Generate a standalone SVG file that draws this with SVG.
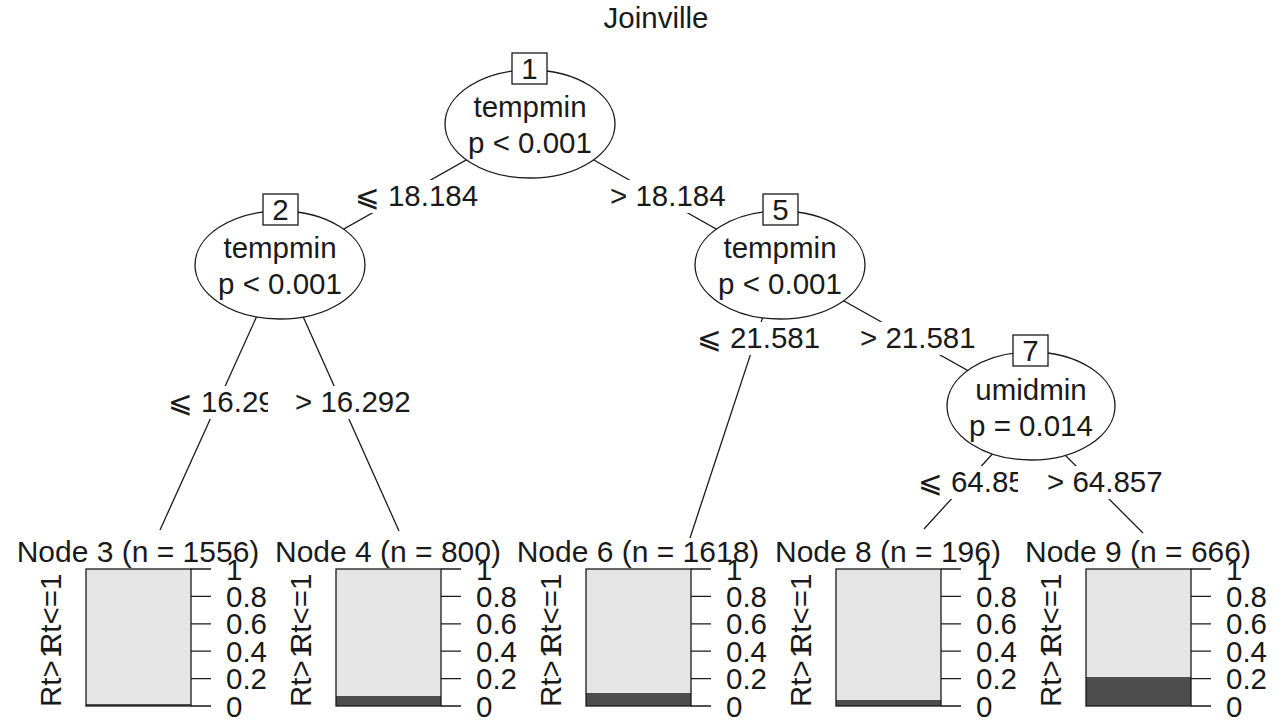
<svg xmlns="http://www.w3.org/2000/svg" width="1284" height="721" viewBox="0 0 1284 721">
<style>
text{font-family:"Liberation Sans",Arial,sans-serif;font-size:29.5px;fill:#1a1a1a}
.c{text-anchor:middle}
.t{font-size:30px;text-anchor:middle}
.e{fill:#fff;stroke:#1a1a1a;stroke-width:1.3}
.b{fill:#fff;stroke:#1a1a1a;stroke-width:1.3}
.ln{stroke:#1a1a1a;stroke-width:1.3;fill:none}
.bg{fill:#fff}
.lt{fill:#e5e5e5;stroke:none}
.dk{fill:#4d4d4d;stroke:none}
.fr{fill:none;stroke:#1a1a1a;stroke-width:1.3}
.sym{font-family:"DejaVu Sans","Liberation Sans",sans-serif}
</style>
<rect width="1284" height="721" fill="#fff"/>
<text class="c" x="656" y="28">Joinville</text>
<g id="edges">
<line class="ln" x1="530" y1="124" x2="280" y2="265"/>
<line class="ln" x1="530" y1="124" x2="780" y2="265"/>
<line class="ln" x1="280" y1="265" x2="160" y2="530"/>
<line class="ln" x1="280" y1="265" x2="399" y2="531"/>
<line class="ln" x1="780" y1="265" x2="1031" y2="406"/>
<line class="ln" x1="780" y1="265" x2="690" y2="538"/>
<line class="ln" x1="996" y1="450" x2="924" y2="529"/>
<line class="ln" x1="1060" y1="450" x2="1143" y2="533"/>
</g>
<g id="edge-labels">
<rect class="bg" x="351" y="180" width="135" height="33"/>
<text x="355" y="206"><tspan class="sym">⩽</tspan> 18.184</text>
<rect class="bg" x="604" y="180" width="130" height="33"/>
<text x="610" y="206">&gt; 18.184</text>
<rect class="bg" x="164" y="386" width="110" height="33"/>
<text x="168" y="412"><tspan class="sym">⩽</tspan> 16.29</text>
<rect class="bg" x="268" y="386" width="155" height="33"/>
<text x="295" y="412">&gt; 16.292</text>
<rect class="bg" x="693" y="322" width="138" height="33"/>
<text x="697" y="348"><tspan class="sym">⩽</tspan> 21.581</text>
<rect class="bg" x="852" y="322" width="130" height="33"/>
<text x="860" y="348">&gt; 21.581</text>
<rect class="bg" x="914" y="466" width="110" height="33"/>
<text x="918" y="492"><tspan class="sym">⩽</tspan> 64.85</text>
<rect class="bg" x="1018" y="466" width="154" height="33"/>
<text x="1047" y="492">&gt; 64.857</text>
</g>
<g id="node1">
<ellipse class="e" cx="530" cy="124" rx="85" ry="54"/>
<rect class="b" x="512" y="53" width="35" height="31"/>
<text class="c" x="529.5" y="79">1</text>
<text class="c" x="530" y="117">tempmin</text>
<text class="c" x="530" y="153">p &lt; 0.001</text>
</g>
<g id="node2">
<ellipse class="e" cx="280" cy="265" rx="85" ry="54"/>
<rect class="b" x="263" y="194" width="35" height="31"/>
<text class="c" x="280.5" y="220">2</text>
<text class="c" x="280" y="258">tempmin</text>
<text class="c" x="280" y="294">p &lt; 0.001</text>
</g>
<g id="node5">
<ellipse class="e" cx="780" cy="265" rx="85" ry="54"/>
<rect class="b" x="763" y="194" width="35" height="31"/>
<text class="c" x="780.5" y="220">5</text>
<text class="c" x="780" y="258">tempmin</text>
<text class="c" x="780" y="294">p &lt; 0.001</text>
</g>
<g id="node7">
<ellipse class="e" cx="1031" cy="406" rx="84" ry="54"/>
<rect class="b" x="1013" y="335" width="35" height="31"/>
<text class="c" x="1030.5" y="361">7</text>
<text class="c" x="1031" y="400">umidmin</text>
<text class="c" x="1031" y="436">p = 0.014</text>
</g>
<g id="node3">
<text class="t" x="138" y="562">Node 3 (n = 1556)</text>
<rect class="lt" x="86" y="569" width="105" height="137"/>
<rect class="dk" x="86" y="704" width="105" height="2"/>
<rect class="fr" x="86" y="569" width="105" height="137"/>
<path class="ln" d="M191 569H211M191 596.4H211M191 623.8H211M191 651.2H211M191 678.6H211M191 706H211"/>
<text x="226" y="580">1</text><text x="226" y="607">0.8</text><text x="226" y="634">0.6</text><text x="226" y="662">0.4</text><text x="226" y="689">0.2</text><text x="226" y="717">0</text>
<text transform="translate(61,707) rotate(-90)">Rt&gt;<tspan dx="-6"> 1</tspan></text>
<text transform="translate(61,654) rotate(-90)">Rt&lt;=1</text>
</g>
<g id="node4">
<text class="t" x="388" y="562">Node 4 (n = 800)</text>
<rect class="lt" x="336" y="569" width="105" height="137"/>
<rect class="dk" x="336" y="696" width="105" height="10"/>
<rect class="fr" x="336" y="569" width="105" height="137"/>
<path class="ln" d="M441 569H461M441 596.4H461M441 623.8H461M441 651.2H461M441 678.6H461M441 706H461"/>
<text x="476" y="580">1</text><text x="476" y="607">0.8</text><text x="476" y="634">0.6</text><text x="476" y="662">0.4</text><text x="476" y="689">0.2</text><text x="476" y="717">0</text>
<text transform="translate(311,707) rotate(-90)">Rt&gt;<tspan dx="-6"> 1</tspan></text>
<text transform="translate(311,654) rotate(-90)">Rt&lt;=1</text>
</g>
<g id="node6">
<text class="t" x="638" y="562">Node 6 (n = 1618)</text>
<rect class="lt" x="586" y="569" width="105" height="137"/>
<rect class="dk" x="586" y="693" width="105" height="13"/>
<rect class="fr" x="586" y="569" width="105" height="137"/>
<path class="ln" d="M691 569H711M691 596.4H711M691 623.8H711M691 651.2H711M691 678.6H711M691 706H711"/>
<text x="726" y="580">1</text><text x="726" y="607">0.8</text><text x="726" y="634">0.6</text><text x="726" y="662">0.4</text><text x="726" y="689">0.2</text><text x="726" y="717">0</text>
<text transform="translate(561,707) rotate(-90)">Rt&gt;<tspan dx="-6"> 1</tspan></text>
<text transform="translate(561,654) rotate(-90)">Rt&lt;=1</text>
</g>
<g id="node8">
<text class="t" x="888" y="562">Node 8 (n = 196)</text>
<rect class="lt" x="836" y="569" width="105" height="137"/>
<rect class="dk" x="836" y="700" width="105" height="6"/>
<rect class="fr" x="836" y="569" width="105" height="137"/>
<path class="ln" d="M941 569H961M941 596.4H961M941 623.8H961M941 651.2H961M941 678.6H961M941 706H961"/>
<text x="976" y="580">1</text><text x="976" y="607">0.8</text><text x="976" y="634">0.6</text><text x="976" y="662">0.4</text><text x="976" y="689">0.2</text><text x="976" y="717">0</text>
<text transform="translate(811,707) rotate(-90)">Rt&gt;<tspan dx="-6"> 1</tspan></text>
<text transform="translate(811,654) rotate(-90)">Rt&lt;=1</text>
</g>
<g id="node9">
<text class="t" x="1138" y="562">Node 9 (n = 666)</text>
<rect class="lt" x="1086" y="569" width="105" height="137"/>
<rect class="dk" x="1086" y="677" width="105" height="29"/>
<rect class="fr" x="1086" y="569" width="105" height="137"/>
<path class="ln" d="M1191 569H1211M1191 596.4H1211M1191 623.8H1211M1191 651.2H1211M1191 678.6H1211M1191 706H1211"/>
<text x="1226" y="580">1</text><text x="1226" y="607">0.8</text><text x="1226" y="634">0.6</text><text x="1226" y="662">0.4</text><text x="1226" y="689">0.2</text><text x="1226" y="717">0</text>
<text transform="translate(1061,707) rotate(-90)">Rt&gt;<tspan dx="-6"> 1</tspan></text>
<text transform="translate(1061,654) rotate(-90)">Rt&lt;=1</text>
</g>
</svg>
